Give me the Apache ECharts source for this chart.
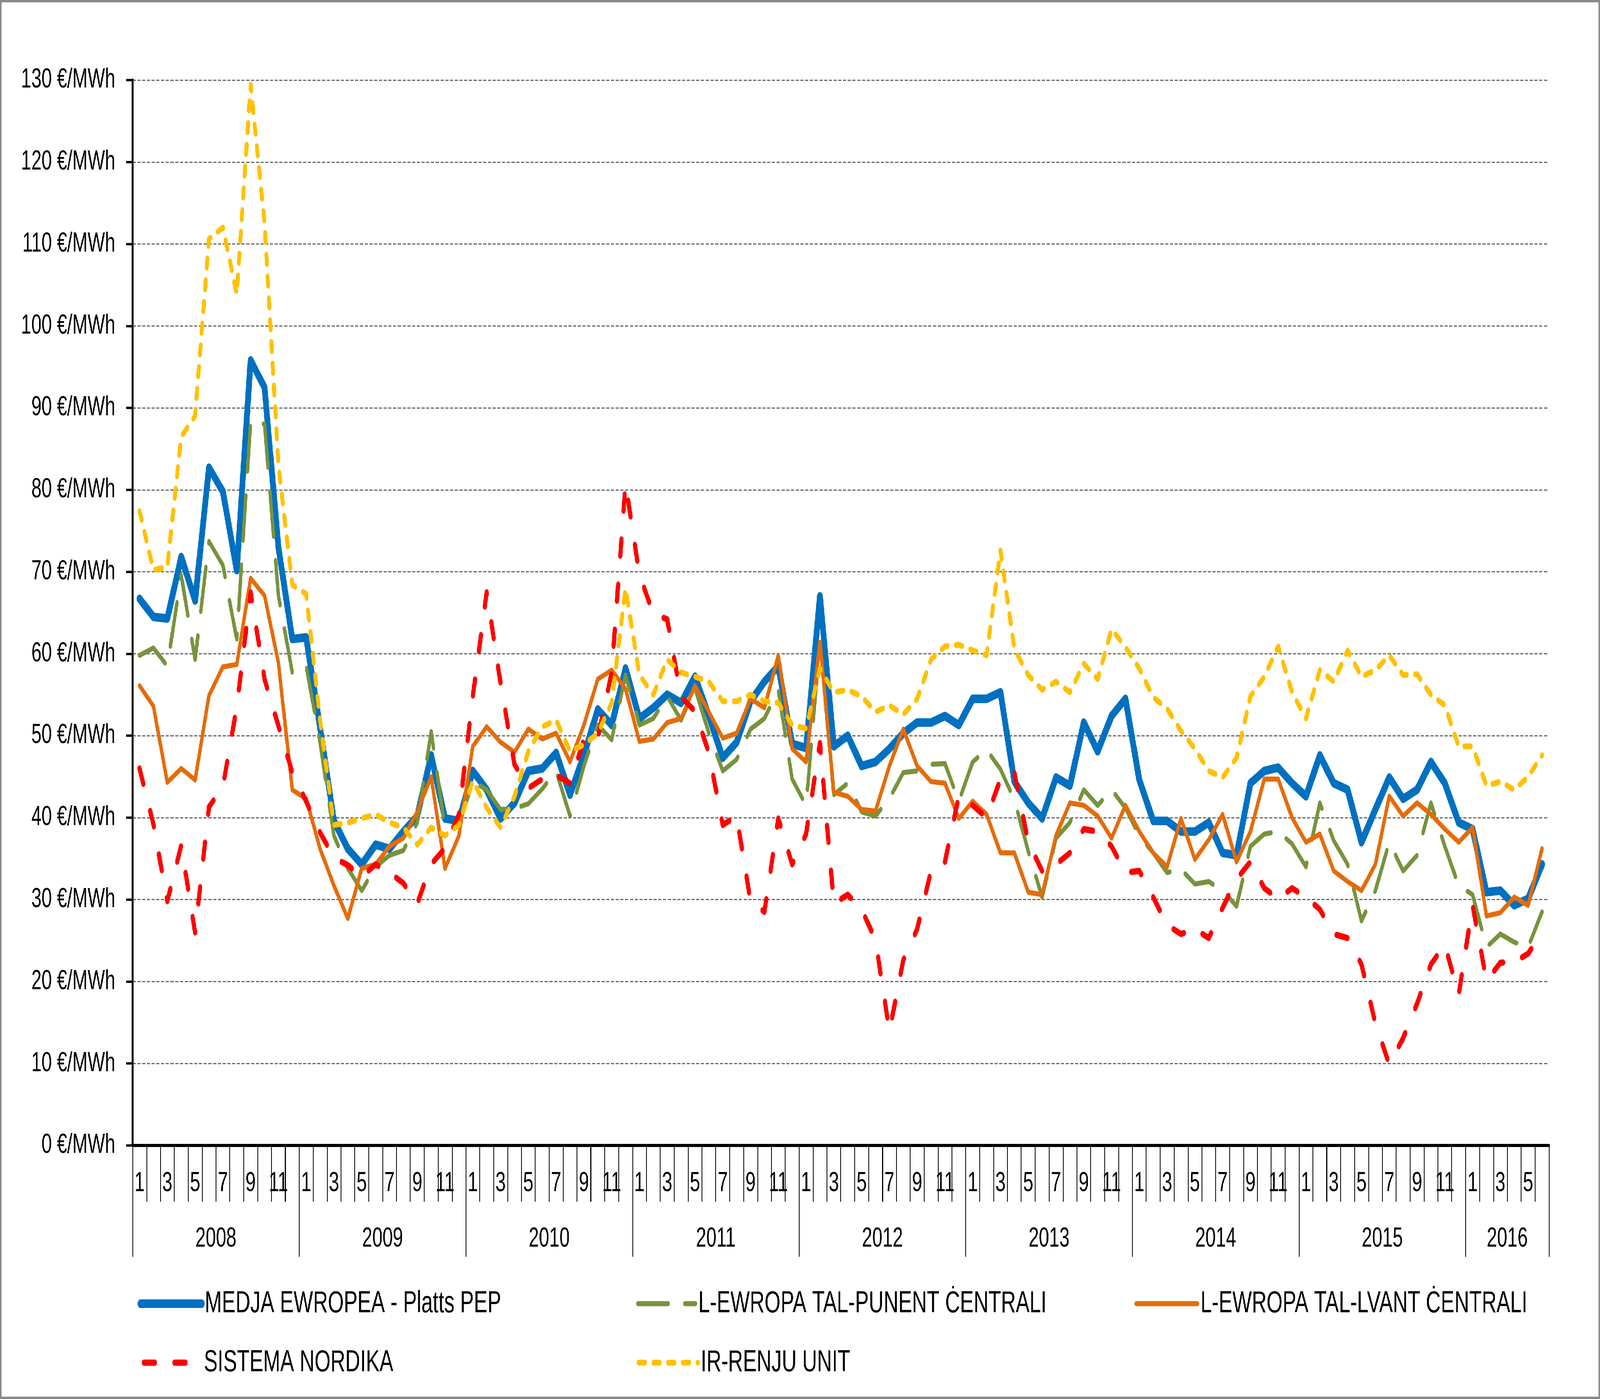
<!DOCTYPE html>
<html>
<head>
<meta charset="utf-8">
<script src="https://cdn.jsdelivr.net/npm/echarts@6/dist/echarts.min.js"></script>
<style>
html,body{margin:0;padding:0;background:#fff;overflow:hidden;}
#wrap{position:absolute;left:0;top:0;width:6081px;height:3581px;transform-origin:0 0;background:#fff;}
#chart{position:absolute;left:0;top:0;width:6081px;height:3581px;}
#frame{position:absolute;left:0;top:0;width:6081px;height:3581px;box-sizing:border-box;border:6px solid #888;pointer-events:none;}
</style>
</head>
<body>
<div id="wrap"><div id="chart"></div><div id="frame"></div></div>
<script>
// ---- data ----
const years = ['2008','2009','2010','2011','2012','2013','2014','2015','2016'];
const monthLabels = ['1','2','3','4','5','6','7','8','9','10','11','12'];
const seriesNames = ['MEDJA EWROPEA - Platts PEP','L-EWROPA TAL-PUNENT ĊENTRALI','L-EWROPA TAL-LVANT ĊENTRALI','SISTEMA NORDIKA','IR-RENJU UNIT'];
const yTicks = {min:0, max:130, step:10};

const medja = [
66.7,64.5,64.3,71.8,66.5,82.7,79.8,70.2,95.8,92.5,73.0,61.8,
62.0,51.0,39.6,36.2,34.3,36.7,36.2,38.3,40.2,47.6,39.9,39.6,
45.7,43.4,39.9,41.8,45.7,46.0,47.9,42.8,47.6,53.2,51.3,58.2,
52.1,53.4,55.0,54.0,57.2,52.4,47.3,49.2,54.2,56.6,58.5,49.0,
48.5,67.0,48.7,50.0,46.3,46.8,48.4,50.3,51.6,51.6,52.4,51.3,
54.5,54.5,55.3,44.4,41.8,39.9,44.9,43.9,51.6,48.1,52.4,54.5,
44.6,39.6,39.6,38.3,38.3,39.4,35.7,35.4,44.2,45.7,46.1,44.2,
42.6,47.6,44.2,43.4,37.0,41.0,44.9,42.3,43.4,46.8,44.2,39.4,
38.6,30.9,31.1,29.3,30.1,34.3];
const punent = [
59.8,60.7,58.5,69.6,59.3,73.7,70.8,61.8,88.4,88.0,67.1,57.7,
58.5,49.2,37.8,33.8,31.1,34.0,35.4,36.0,39.4,50.5,38.6,39.1,
44.4,43.4,41.0,41.1,41.7,43.5,45.7,40.2,46.3,51.3,49.5,57.4,
51.3,52.1,54.8,51.9,55.8,50.3,45.7,47.1,50.8,52.1,55.6,44.7,
41.5,61.4,42.8,44.2,40.7,40.2,42.3,45.5,45.7,46.5,46.6,42.0,
46.8,48.3,45.9,42.2,35.9,30.3,37.5,39.4,43.4,41.5,43.4,41.2,
37.8,35.7,33.3,33.7,31.9,32.2,31.1,29.2,36.5,38.0,38.3,36.8,
34.0,41.8,37.2,34.3,27.4,31.1,37.0,33.5,35.4,41.8,36.5,31.7,
30.6,24.2,25.8,24.8,24.2,28.5];
const lvant = [
56.1,53.6,44.3,46.0,44.6,54.9,58.4,58.7,69.2,67.1,58.9,43.4,
42.3,36.2,31.7,27.7,33.8,34.3,36.5,37.5,40.7,45.0,33.8,37.8,
48.7,51.1,49.2,48.0,50.8,49.6,50.3,46.8,51.3,56.9,58.0,55.7,
49.3,49.6,51.6,52.1,56.1,52.9,49.7,50.3,54.5,53.4,59.8,48.4,
46.8,61.4,43.1,42.6,41.0,40.8,46.3,50.8,46.3,44.4,44.2,39.9,
42.0,40.4,35.7,35.7,30.9,30.6,37.8,41.8,41.5,40.2,37.5,41.5,
38.3,35.7,34.0,39.9,34.9,37.3,40.4,34.6,38.3,44.7,44.7,40.0,
37.0,38.0,33.5,32.2,31.1,34.3,42.6,40.2,41.8,40.4,38.6,37.0,
38.8,28.0,28.4,30.3,29.3,36.2];
const nordika = [
46.0,39.2,29.8,36.6,26.0,41.3,43.8,53.5,67.5,56.9,51.2,45.5,
42.0,38.2,35.1,34.2,32.8,34.3,33.3,32.0,29.5,34.3,36.3,40.4,
54.8,67.5,56.4,46.5,43.6,44.7,45.2,44.2,49.5,49.7,57.7,80.8,
69.6,64.9,64.2,54.7,53.0,47.9,39.1,40.2,29.8,28.5,39.9,34.3,
38.0,49.1,29.5,30.6,28.8,25.1,13.9,22.6,26.4,33.5,34.6,42.6,
41.5,40.0,44.7,45.5,37.0,33.5,34.3,35.7,38.6,38.3,36.5,33.3,
33.5,30.3,26.9,25.8,26.4,25.3,29.0,32.5,34.6,31.4,30.1,31.4,
30.3,28.8,25.8,25.3,22.1,14.9,9.9,13.1,17.3,22.1,24.5,18.4,
29.3,20.1,22.3,22.4,23.4,26.0];
const renju = [
77.4,70.2,70.6,86.5,89.0,110.6,112.0,103.9,129.4,112.6,83.0,68.4,
67.3,51.9,39.1,39.4,39.9,40.4,39.4,38.8,36.7,38.8,37.8,39.1,
44.5,41.2,38.8,42.6,48.1,51.1,51.9,48.1,48.9,50.3,54.0,68.0,
57.4,55.0,59.3,57.7,57.2,56.6,54.2,54.2,55.0,54.2,54.0,51.3,
50.9,58.2,55.3,55.6,54.8,52.9,53.7,52.6,54.5,59.3,60.9,61.1,
60.4,59.8,72.6,60.6,57.4,55.6,56.6,55.3,58.8,56.9,63.0,60.8,
58.2,54.7,53.3,50.6,48.4,45.7,44.9,47.3,54.8,57.2,60.9,55.3,
52.1,58.0,56.6,60.4,57.2,58.0,59.8,57.4,57.5,55.0,53.7,48.7,
48.7,43.9,44.4,43.4,45.0,47.6];

// ---- build categories ----
const n = medja.length;
const categories = [];
for (let k = 0; k < years.length; k++) {
  for (let m = 0; m < 12 && categories.length < n; m++) categories.push(monthLabels[m]);
}
function yearLabel(v) {
  for (let k = 0; k < years.length; k++) {
    const s0 = k * 12, e = Math.min(s0 + 12, n);
    if ((s0 + e) / 2 === v) return years[k];
  }
  return '';
}

// ---- fit the 6081 x 3581 design onto the actual viewport ----
const wrap = document.getElementById('wrap');
const sx = window.innerWidth / 6081, sy = window.innerHeight / 3581;
wrap.style.transform = 'scale(' + sx + ',' + sy + ')';

const FONT = "'Liberation Sans', Arial, sans-serif";
const colors = ['#0070C0', '#77933C', '#E46C0A', '#FF0000', '#FFC000'];
const styles = [
  {width: 22, type: 'solid', offset: 0},
  {width: 13, type: [115, 63], offset: -14},
  {width: 13, type: 'solid', offset: 0},
  {width: 16, type: [42, 74], offset: -16},
  {width: 15, type: [24, 32], offset: -8}
];
const datasets = [medja, punent, lvant, nordika, renju];

const legendPos = [
  {left: 523, top: 3292}, {left: 2404, top: 3292}, {left: 4312, top: 3292},
  {left: 523, top: 3443}, {left: 2412, top: 3443}
];

const chart = echarts.init(document.getElementById('chart'), null, {renderer: 'canvas', width: 6081, height: 3581, devicePixelRatio: 1});
chart.setOption({
  animation: false,
  backgroundColor: '#fff',
  textStyle: {fontFamily: FONT},
  grid: {left: 504, right: 6081 - 5887, top: 205, bottom: 3581 - 2932, containLabel: false, outerBoundsMode: 'none'},
  legend: legendPos.map((p, i) => ({
    data: [seriesNames[i]], left: p.left, top: p.top, padding: 0,
    itemWidth: 233, itemHeight: 24, selectedMode: false,
    itemStyle: {opacity: 0},
    lineStyle: {color: colors[i], width: styles[i].width, type: styles[i].type, dashOffset: styles[i].offset, cap: 'round', opacity: 1},
    textStyle: {fontSize: 78, color: '#000', fontFamily: FONT, lineHeight: 90, padding: [0, 0, 0, 6]}
  })),
  xAxis: [
    {
      type: 'category', data: categories, boundaryGap: true, position: 'bottom',
      axisLine: {show: true, lineStyle: {color: '#000', width: 8}},
      axisTick: {show: true, interval: 0, length: 144, lineStyle: {color: '#000', width: 3}},
      axisLabel: {interval: 1, margin: 63, fontSize: 70, color: '#000', fontFamily: FONT},
      splitLine: {show: false}
    },
    {
      type: 'category', data: categories, boundaryGap: true, position: 'bottom',
      axisLine: {show: false},
      axisTick: {show: true, interval: (i) => i % 12 === 0, length: 285, lineStyle: {color: '#000', width: 3}},
      axisLabel: {show: false}, splitLine: {show: false}
    },
    {
      type: 'value', min: 0, max: n, interval: 3, position: 'bottom',
      axisLine: {show: false}, axisTick: {show: false}, splitLine: {show: false},
      axisLabel: {margin: 205, fontSize: 70, color: '#000', fontFamily: FONT, formatter: yearLabel,
                  showMinLabel: true, showMaxLabel: true}
    }
  ],
  yAxis: {
    type: 'value', min: yTicks.min, max: yTicks.max, interval: yTicks.step,
    axisLine: {show: true, lineStyle: {color: '#000', width: 8}},
    axisTick: {show: true, length: 24, lineStyle: {color: '#000', width: 6}},
    axisLabel: {margin: 66, fontSize: 70, color: '#000', fontFamily: FONT, formatter: '{value} €/MWh'},
    splitLine: {show: true, lineStyle: {type: [12, 6], color: '#666', width: 3}}
  },
  series: datasets.map((d, i) => ({
    name: seriesNames[i], type: 'line', xAxisIndex: 0, data: d,
    symbol: 'none', showSymbol: false, smooth: false,
    itemStyle: {color: colors[i]},
    lineStyle: {color: colors[i], width: styles[i].width, type: styles[i].type, cap: 'round', join: 'round'},
    emphasis: {disabled: true}
  }))
});
</script>
</body>
</html>
